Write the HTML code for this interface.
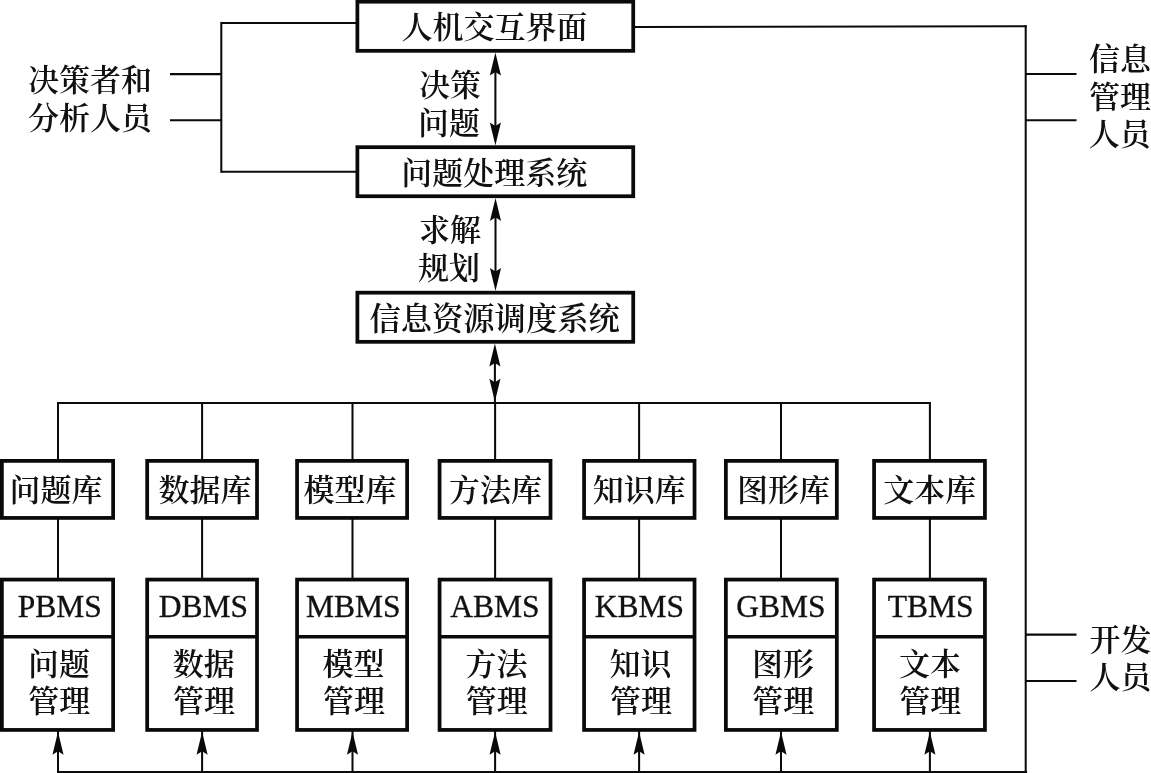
<!DOCTYPE html>
<html lang="zh-CN">
<head>
<meta charset="utf-8">
<title>决策支持系统结构图</title>
<style>
html,body{margin:0;padding:0;background:#fff;}
body{width:1151px;height:773px;overflow:hidden;}
svg{display:block;will-change:transform;opacity:.999;}
svg line,svg rect{stroke:#0a0a0a;}
svg rect{fill:#fff;}
svg .ah{fill:#0a0a0a;stroke:none;}
svg text{font-family:"Liberation Serif","Noto Serif CJK SC",serif;fill:#111;}
svg text.c{font-weight:600;}
svg text.l{font-weight:400;stroke:#111;stroke-width:.35px;}
</style>
</head>
<body>
<svg width="1151" height="773" viewBox="0 0 1151 773">
<line x1="221.3" y1="21.9" x2="221.3" y2="172.8" stroke-width="2.05"/>
<line x1="221.3" y1="23" x2="356" y2="23" stroke-width="2.05"/>
<line x1="221.3" y1="171.7" x2="356" y2="171.7" stroke-width="2.05"/>
<line x1="170" y1="74.1" x2="221.3" y2="74.1" stroke-width="2.05"/>
<line x1="170" y1="120.3" x2="221.3" y2="120.3" stroke-width="2.05"/>
<line x1="634" y1="26.9" x2="1026.7" y2="26.3" stroke-width="2.05"/>
<line x1="1025.7" y1="25.3" x2="1025.7" y2="773" stroke-width="2.05"/>
<line x1="57.0" y1="772.1" x2="1027.1" y2="772.1" stroke-width="2.4"/>
<line x1="1026" y1="74" x2="1076.5" y2="74" stroke-width="2.05"/>
<line x1="1026" y1="120.3" x2="1076.5" y2="120.3" stroke-width="2.05"/>
<line x1="1026" y1="634.6" x2="1076.5" y2="634.6" stroke-width="2.05"/>
<line x1="1026" y1="680.9" x2="1076.5" y2="680.9" stroke-width="2.05"/>
<line x1="57.0" y1="403.0" x2="930.9" y2="403.0" stroke-width="2.05"/>
<line x1="58.0" y1="403.0" x2="58.0" y2="460" stroke-width="2.05"/>
<line x1="58.0" y1="518" x2="58.0" y2="579" stroke-width="2.05"/>
<line x1="58.0" y1="731" x2="58.0" y2="773" stroke-width="2.05"/>
<path class="ah" d="M58.0 731.8 L52.45 754.80 L58.0 751.20 L63.55 754.80 Z"/>
<line x1="202.1" y1="403.0" x2="202.1" y2="460" stroke-width="2.05"/>
<line x1="202.1" y1="518" x2="202.1" y2="579" stroke-width="2.05"/>
<line x1="202.1" y1="731" x2="202.1" y2="773" stroke-width="2.05"/>
<path class="ah" d="M202.1 731.8 L196.55 754.80 L202.1 751.20 L207.65 754.80 Z"/>
<line x1="352.5" y1="403.0" x2="352.5" y2="460" stroke-width="2.05"/>
<line x1="352.5" y1="518" x2="352.5" y2="579" stroke-width="2.05"/>
<line x1="352.5" y1="731" x2="352.5" y2="773" stroke-width="2.05"/>
<path class="ah" d="M352.5 731.8 L346.95 754.80 L352.5 751.20 L358.05 754.80 Z"/>
<line x1="495.1" y1="403.0" x2="495.1" y2="460" stroke-width="2.05"/>
<line x1="495.1" y1="518" x2="495.1" y2="579" stroke-width="2.05"/>
<line x1="495.1" y1="731" x2="495.1" y2="773" stroke-width="2.05"/>
<path class="ah" d="M495.1 731.8 L489.55 754.80 L495.1 751.20 L500.65 754.80 Z"/>
<line x1="639.1" y1="403.0" x2="639.1" y2="460" stroke-width="2.05"/>
<line x1="639.1" y1="518" x2="639.1" y2="579" stroke-width="2.05"/>
<line x1="639.1" y1="731" x2="639.1" y2="773" stroke-width="2.05"/>
<path class="ah" d="M639.1 731.8 L633.55 754.80 L639.1 751.20 L644.65 754.80 Z"/>
<line x1="781.0" y1="403.0" x2="781.0" y2="460" stroke-width="2.05"/>
<line x1="781.0" y1="518" x2="781.0" y2="579" stroke-width="2.05"/>
<line x1="781.0" y1="731" x2="781.0" y2="773" stroke-width="2.05"/>
<path class="ah" d="M781.0 731.8 L775.45 754.80 L781.0 751.20 L786.55 754.80 Z"/>
<line x1="929.9" y1="403.0" x2="929.9" y2="460" stroke-width="2.05"/>
<line x1="929.9" y1="518" x2="929.9" y2="579" stroke-width="2.05"/>
<line x1="929.9" y1="731" x2="929.9" y2="773" stroke-width="2.05"/>
<path class="ah" d="M929.9 731.8 L924.35 754.80 L929.9 751.20 L935.45 754.80 Z"/>
<line x1="495.4" y1="60" x2="495.4" y2="138" stroke-width="2.05"/>
<path class="ah" d="M495.4 52.5 L489.85 75.50 L495.4 71.90 L500.95 75.50 Z"/>
<path class="ah" d="M495.4 145.4 L489.85 122.40 L495.4 126.00 L500.95 122.40 Z"/>
<line x1="495.5" y1="205" x2="495.5" y2="284" stroke-width="2.05"/>
<path class="ah" d="M495.5 197.9 L489.95 220.90 L495.5 217.30 L501.05 220.90 Z"/>
<path class="ah" d="M495.5 290.9 L489.95 267.90 L495.5 271.50 L501.05 267.90 Z"/>
<line x1="494.9" y1="350" x2="494.9" y2="403" stroke-width="2.05"/>
<path class="ah" d="M494.9 343.5 L489.35 366.50 L494.9 362.90 L500.45 366.50 Z"/>
<path class="ah" d="M494.9 401.7 L489.35 378.70 L494.9 382.30 L500.45 378.70 Z"/>
<rect x="357.38" y="1.68" width="275.85" height="49.15" stroke-width="3.75" fill="#fff"/>
<rect x="357.38" y="147.18" width="275.85" height="49.05" stroke-width="3.75" fill="#fff"/>
<rect x="357.38" y="292.68" width="275.85" height="49.15" stroke-width="3.75" fill="#fff"/>
<rect x="1.88" y="460.88" width="111.25" height="57.05" stroke-width="3.75" fill="#fff"/>
<rect x="1.88" y="579.58" width="111.25" height="150.35" stroke-width="3.75" fill="#fff"/>
<line x1="1.0" y1="636.7" x2="114.0" y2="636.7" stroke-width="3.6"/>
<rect x="147.18" y="460.88" width="109.85" height="57.05" stroke-width="3.75" fill="#fff"/>
<rect x="147.18" y="579.58" width="109.85" height="150.35" stroke-width="3.75" fill="#fff"/>
<line x1="146.3" y1="636.7" x2="257.9" y2="636.7" stroke-width="3.6"/>
<rect x="297.07" y="460.88" width="110.05" height="57.05" stroke-width="3.75" fill="#fff"/>
<rect x="297.07" y="579.58" width="110.05" height="150.35" stroke-width="3.75" fill="#fff"/>
<line x1="296.2" y1="636.7" x2="408.0" y2="636.7" stroke-width="3.6"/>
<rect x="439.57" y="460.88" width="110.95" height="57.05" stroke-width="3.75" fill="#fff"/>
<rect x="439.57" y="579.58" width="110.95" height="150.35" stroke-width="3.75" fill="#fff"/>
<line x1="438.7" y1="636.7" x2="551.4" y2="636.7" stroke-width="3.6"/>
<rect x="584.08" y="460.88" width="110.45" height="57.05" stroke-width="3.75" fill="#fff"/>
<rect x="584.08" y="579.58" width="110.45" height="150.35" stroke-width="3.75" fill="#fff"/>
<line x1="583.2" y1="636.7" x2="695.4" y2="636.7" stroke-width="3.6"/>
<rect x="725.88" y="460.88" width="110.95" height="57.05" stroke-width="3.75" fill="#fff"/>
<rect x="725.88" y="579.58" width="110.95" height="150.35" stroke-width="3.75" fill="#fff"/>
<line x1="725.0" y1="636.7" x2="837.7" y2="636.7" stroke-width="3.6"/>
<rect x="874.08" y="460.88" width="110.85" height="57.05" stroke-width="3.75" fill="#fff"/>
<rect x="874.08" y="579.58" width="110.85" height="150.35" stroke-width="3.75" fill="#fff"/>
<line x1="873.2" y1="636.7" x2="985.8" y2="636.7" stroke-width="3.6"/>
<text class="c" x="494.5" y="38.0" text-anchor="middle" font-size="31">人机交互界面</text>
<text class="c" x="494.2" y="184.4" text-anchor="middle" font-size="31">问题处理系统</text>
<text class="c" x="494.6" y="329.5" text-anchor="middle" font-size="31.3">信息资源调度系统</text>
<text class="c" x="450.0" y="96.0" text-anchor="middle" font-size="31">决策</text>
<text class="c" x="449.0" y="133.8" text-anchor="middle" font-size="31">问题</text>
<text class="c" x="450.0" y="241.0" text-anchor="middle" font-size="31">求解</text>
<text class="c" x="449.0" y="279.0" text-anchor="middle" font-size="31">规划</text>
<text class="c" x="90.0" y="91.0" text-anchor="middle" font-size="31">决策者和</text>
<text class="c" x="90.0" y="129.0" text-anchor="middle" font-size="31">分析人员</text>
<text class="c" x="1089.0" y="70.2" text-anchor="start" font-size="31">信息</text>
<text class="c" x="1089.0" y="107.8" text-anchor="start" font-size="31">管理</text>
<text class="c" x="1088.8" y="144.9" text-anchor="start" font-size="31">人员</text>
<text class="c" x="1089.6" y="651.2" text-anchor="start" font-size="31">开发</text>
<text class="c" x="1089.6" y="688.3" text-anchor="start" font-size="31">人员</text>
<text class="c" x="56.0" y="501.1" text-anchor="middle" font-size="31">问题库</text>
<text class="l" x="59.7" y="616.8" text-anchor="middle" font-size="31.5">PBMS</text>
<text class="c" x="58.9" y="674.5" text-anchor="middle" font-size="31">问题</text>
<text class="c" x="59.2" y="712.0" text-anchor="middle" font-size="31">管理</text>
<text class="c" x="204.9" y="501.1" text-anchor="middle" font-size="31">数据库</text>
<text class="l" x="203.4" y="616.8" text-anchor="middle" font-size="31.5">DBMS</text>
<text class="c" x="203.7" y="674.5" text-anchor="middle" font-size="31">数据</text>
<text class="c" x="204.0" y="712.0" text-anchor="middle" font-size="31">管理</text>
<text class="c" x="350.1" y="501.1" text-anchor="middle" font-size="31">模型库</text>
<text class="l" x="353.3" y="616.8" text-anchor="middle" font-size="31.5">MBMS</text>
<text class="c" x="353.6" y="674.5" text-anchor="middle" font-size="31">模型</text>
<text class="c" x="353.9" y="712.0" text-anchor="middle" font-size="31">管理</text>
<text class="c" x="495.4" y="501.1" text-anchor="middle" font-size="31">方法库</text>
<text class="l" x="495.0" y="616.8" text-anchor="middle" font-size="31.5">ABMS</text>
<text class="c" x="496.5" y="674.5" text-anchor="middle" font-size="31">方法</text>
<text class="c" x="496.8" y="712.0" text-anchor="middle" font-size="31">管理</text>
<text class="c" x="639.3" y="501.1" text-anchor="middle" font-size="31">知识库</text>
<text class="l" x="639.3" y="616.8" text-anchor="middle" font-size="31.5">KBMS</text>
<text class="c" x="640.6" y="674.5" text-anchor="middle" font-size="31">知识</text>
<text class="c" x="640.9" y="712.0" text-anchor="middle" font-size="31">管理</text>
<text class="c" x="783.4" y="501.1" text-anchor="middle" font-size="31">图形库</text>
<text class="l" x="781.0" y="616.8" text-anchor="middle" font-size="31.5">GBMS</text>
<text class="c" x="783.0" y="674.5" text-anchor="middle" font-size="31">图形</text>
<text class="c" x="783.2" y="712.0" text-anchor="middle" font-size="31">管理</text>
<text class="c" x="929.8" y="501.1" text-anchor="middle" font-size="31">文本库</text>
<text class="l" x="930.7" y="616.8" text-anchor="middle" font-size="31.5">TBMS</text>
<text class="c" x="930.0" y="674.5" text-anchor="middle" font-size="31">文本</text>
<text class="c" x="930.3" y="712.0" text-anchor="middle" font-size="31">管理</text>
</svg>
</body>
</html>
